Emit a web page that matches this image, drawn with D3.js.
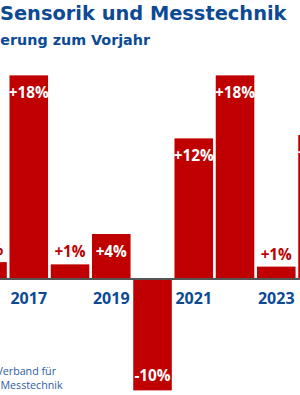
<!DOCTYPE html>
<html lang="de">
<head>
  <meta charset="UTF-8" />
  <title>Sensorik und Messtechnik</title>
  <script src="https://d3js.org/d3.v7.min.js"></script>
  <style>
    * { margin: 0; padding: 0; box-sizing: border-box; }
    body { background: #fff; font-family: 'Open Sans', 'Noto Sans', sans-serif; }
    svg { display: block; }
  </style>
</head>
<body>
  <svg id="chart" width="300" height="395"></svg>
  <script>
    // Veränderung zum Vorjahr in %
    const years = [2016, 2017, 2018, 2019, 2020, 2021, 2022, 2023, 2024];
    const changes = [1.5, 18.1, 1.3, 4.0, -9.9, 12.5, 18.1, 1.1, 12.8];
    const labels = ['+2%', '+18%', '+1%', '+4%', '-10%', '+12%', '+18%', '+1%', '+13%'];
    const tickYears = [2017, 2019, 2021, 2023];

    const red = '#c00000';
    const blue = '#0d4a94';

    const svg = d3.select('#chart');

    // bars start left of the visible area, the chart is cut at both sides
    const x = d3.scaleBand().domain(years).range([-33.1, 338.15])
      .paddingInner(0.065).paddingOuter(0.0325);
    const y = d3.scaleLinear().domain([-10, 18]).range([391.5, 76.5]);

    svg.append('text')
      .attr('x', 0).attr('y', 20)
      .attr('fill', blue)
      .attr('font-family', "'DejaVu Sans', sans-serif")
      .attr('font-size', 19.4).attr('font-weight', 700)
      .text('Sensorik und Messtechnik');

    svg.append('text')
      .attr('x', 150).attr('y', 45)
      .attr('text-anchor', 'end')
      .attr('fill', blue)
      .attr('font-family', "'DejaVu Sans', sans-serif")
      .attr('font-size', 14.3).attr('font-weight', 700)
      .text('Veränderung zum Vorjahr');

    const data = years.map((yr, i) => ({ yr, v: changes[i], label: labels[i] }));

    svg.selectAll('rect.bar').data(data).enter().append('rect')
      .attr('class', 'bar')
      .attr('x', d => x(d.yr))
      .attr('width', x.bandwidth())
      .attr('y', d => y(Math.max(0, d.v)))
      .attr('height', d => Math.abs(y(d.v) - y(0)))
      .attr('fill', red);

    svg.append('line')
      .attr('x1', 0).attr('x2', 300)
      .attr('y1', y(0)).attr('y2', y(0))
      .attr('stroke', '#555').attr('stroke-width', 2);

    svg.selectAll('text.val').data(data).enter().append('text')
      .attr('class', 'val')
      .attr('x', d => x(d.yr) + x.bandwidth() / 2)
      .attr('y', d => {
        if (d.v < 0) return y(d.v) - 9.5;
        if (d.v < 3) return y(d.v) - 7;
        return y(d.v) + 22.5;
      })
      .attr('text-anchor', 'middle')
      .attr('font-size', 15.3).attr('font-weight', 700)
      .attr('fill', d => (d.v >= 0 && d.v < 3) ? red : '#fff')
      .text(d => d.label);

    svg.selectAll('text.year').data(tickYears).enter().append('text')
      .attr('class', 'year')
      .attr('x', d => x(d) + x.bandwidth() / 2)
      .attr('y', 303.5)
      .attr('text-anchor', 'middle')
      .attr('font-size', 16).attr('font-weight', 700)
      .attr('fill', blue)
      .text(d => d);

    const src = svg.append('g').attr('fill', '#2e5ea6').attr('font-size', 10.7);
    src.append('text').attr('x', 56).attr('y', 375).attr('text-anchor', 'end').text('Verband für');
    src.append('text').attr('x', 0.5).attr('y', 389).text('Messtechnik');
  </script>
</body>
</html>
